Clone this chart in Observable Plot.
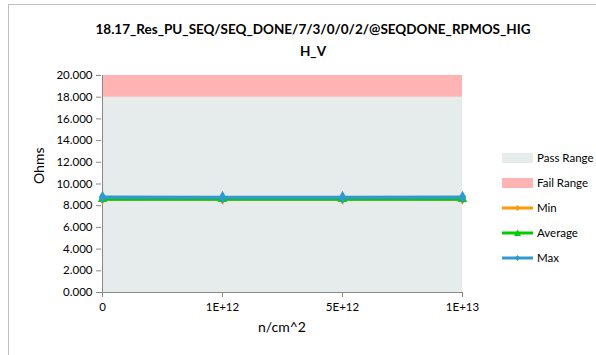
<!DOCTYPE html>
<html>
<head>
<meta charset="utf-8">
<script src="https://cdn.jsdelivr.net/npm/d3@7"></script>
<script src="https://cdn.jsdelivr.net/npm/@observablehq/plot@0.6"></script>
<style>
  html, body { margin: 0; padding: 0; background: #fff; }
  #wrap { position: relative; width: 596px; height: 355px; overflow: hidden; font-family: Lato, "Open Sans", sans-serif; }
  #frame { position: absolute; left: 8px; top: 4px; width: 600px; height: 360px; border-left: 1px solid #bfbfbf; border-top: 1px solid #bfbfbf; }
  #title { position: absolute; left: 30px; width: 566px; top: 18px; text-align: center; font-weight: bold; font-size: 13.5px; line-height: 22px; color: #000; }
  #legend { position: absolute; left: 502px; top: 150px; font-size: 11.5px; color: #000; }
  .li { position: absolute; left: 0; height: 16px; white-space: nowrap; }
  .li svg { position: absolute; left: 0; top: 0; }
  .li span { position: absolute; left: 35px; top: 0px; line-height: 16px; }
</style>
</head>
<body>
<div id="wrap">
  <div id="frame"></div>
  <div id="chart"></div>
  <div id="title">18.17_Res_PU_SEQ/SEQ_DONE/7/3/0/0/2/@SEQDONE_RPMOS_HIG<br>H_V</div>
  <div id="legend"></div>
</div>
<script>
const categories = ["0", "1E+12", "5E+12", "1E+13"];
const minValues = [8.6, 8.6, 8.6, 8.6];
const avgValues = [8.6, 8.6, 8.6, 8.6];
const maxValues = [8.78, 8.76, 8.76, 8.78];
const passRange = [0, 18];
const failRange = [18, 20];
const yTicks = [0, 2, 4, 6, 8, 10, 12, 14, 16, 18, 20];

const colors = { pass: "#e6ebeb", fail: "#ffb3b3", min: "#ff9900", avg: "#00cc00", max: "#3399cc" };

const band = categories.map(c => ({ x: c }));
const rows = (vals) => categories.map((c, i) => ({ x: c, y: vals[i] }));

const plot = Plot.plot({
  width: 596,
  height: 355,
  marginLeft: 101,
  marginRight: 134,
  marginTop: 75,
  marginBottom: 63,
  style: { fontFamily: "Lato, 'Open Sans', sans-serif", fontSize: "11.5px", color: "#000", background: "transparent" },
  x: { type: "point", domain: categories, padding: 0, label: null },
  y: { domain: [0, 20], label: null },
  marks: [
    Plot.areaY(band, { x: "x", y1: passRange[0], y2: passRange[1], fill: colors.pass }),
    Plot.areaY(band, { x: "x", y1: failRange[0], y2: failRange[1], fill: colors.fail }),
    Plot.ruleX([categories[0]], { stroke: "#888", strokeWidth: 1 }),
    Plot.ruleY([0], { stroke: "#888", strokeWidth: 1 }),
    Plot.axisY({ ticks: yTicks, tickFormat: d => d.toFixed(3), tickSize: 5, tickPadding: 4, stroke: "#888", color: "#000" }),
    Plot.axisX({ tickSize: 5, tickPadding: 5, stroke: "#888" }),
    Plot.line(rows(minValues), { x: "x", y: "y", stroke: colors.min, strokeWidth: 3 }),
    Plot.dot(rows(minValues), { x: "x", y: "y", symbol: "diamond", fill: colors.min, r: 3.5 }),
    Plot.line(rows(avgValues), { x: "x", y: "y", stroke: colors.avg, strokeWidth: 3 }),
    Plot.dot(rows(avgValues), { x: "x", y: "y", symbol: "triangle", fill: colors.avg, r: 3.5 }),
    Plot.line(rows(maxValues), { x: "x", y: "y", stroke: colors.max, strokeWidth: 3.5 }),
    Plot.dot(rows(maxValues), { x: "x", y: "y", symbol: "diamond", fill: colors.max, r: 4 }),
    Plot.text(["Ohms"], { frameAnchor: "left", dx: -62, dy: 0, rotate: -90, fontSize: 14, text: d => d }),
    Plot.text(["n/cm^2"], { frameAnchor: "bottom", dy: 39, fontSize: 14, text: d => d })
  ]
});
document.getElementById("chart").appendChild(plot);

// legend
const legendItems = [
  { label: "Pass Range", type: "box", color: colors.pass },
  { label: "Fail Range", type: "box", color: colors.fail },
  { label: "Min", type: "line", color: colors.min, sym: "diamond" },
  { label: "Average", type: "line", color: colors.avg, sym: "triangle" },
  { label: "Max", type: "line", color: colors.max, sym: "diamond" }
];
const leg = document.getElementById("legend");
legendItems.forEach((it, i) => {
  const d = document.createElement("div");
  d.className = "li";
  d.style.top = (i * 25) + "px";
  let g;
  if (it.type === "box") {
    g = `<svg width="34" height="16"><rect x="0" y="3" width="31" height="10" fill="${it.color}"/></svg>`;
  } else {
    const mk = it.sym === "triangle"
      ? `<path d="M15.5,4.5 L19,11 L12,11 Z" fill="${it.color}"/>`
      : `<path d="M15.5,5 L18,8 L15.5,11 L13,8 Z" fill="${it.color}"/>`;
    g = `<svg width="34" height="16"><line x1="0" x2="31" y1="8" y2="8" stroke="${it.color}" stroke-width="3"/>${mk}</svg>`;
  }
  d.innerHTML = g + `<span>${it.label}</span>`;
  leg.appendChild(d);
});
</script>
</body>
</html>
